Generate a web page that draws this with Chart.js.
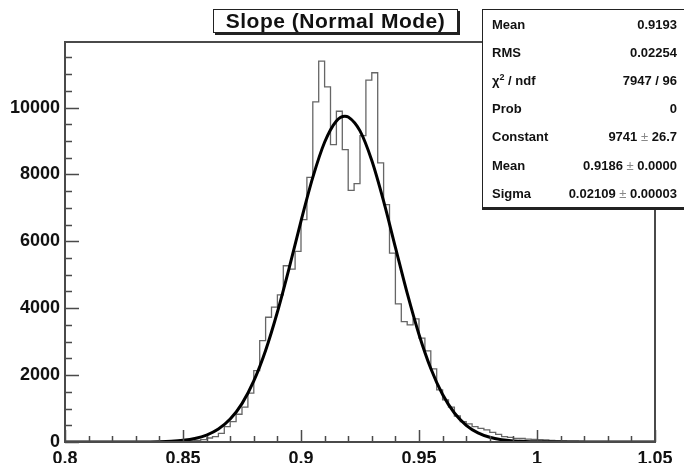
<!DOCTYPE html>
<html>
<head>
<meta charset="utf-8">
<script src="https://cdn.jsdelivr.net/npm/chart.js@4.4.0/dist/chart.umd.min.js"></script>
<style>
    body { margin: 0; background: #fff; overflow: hidden; font-family: 'Liberation Sans', Arial, sans-serif; }
    #wrap { position: relative; width: 684px; height: 463px; overflow: hidden; }
    #title {
        position: absolute; left: 213px; top: 9px; width: 243px; height: 22px;
        border: 1px solid #222; box-shadow: 2px 2px 0 #222; background: #fff;
        font-weight: bold; font-size: 21px; letter-spacing: 0.5px; line-height: 22px;
        text-align: center; color: #111; white-space: nowrap;
    }
    #stats {
        position: absolute; left: 482px; top: 9px; width: 230px;
        border: 1px solid #222; box-shadow: 0 2px 0 #222; background: #fff; color: #111;
    }
    #stats .row {
        display: flex; justify-content: space-between; align-items: center;
        width: 185px; height: 28.2px; padding-left: 9px;
        font-weight: bold; font-size: 13px;
    }
    #stats .pm { color: #888; font-weight: normal; }
    #stats sup { font-size: 9px; line-height: 0; }
</style>
</head>
<body>
<div id="wrap">
    <canvas id="histChart" width="684" height="463"></canvas>
    <div id="title">Slope (Normal Mode)</div>
    <div id="stats"></div>
</div>
<script>
// histogram: 100 bins from 0.8 to 1.05
const binLow = 0.8;
const binWidth = 0.0025;
const counts = [
    0, 0, 0, 0, 0, 0, 0, 0, 0, 0,
    0, 0, 0, 0, 0, 2, 4, 6, 10, 15,
    22, 32, 45, 70, 120, 160, 260, 460, 610, 830,
    1040, 1460, 2135, 3030, 3730, 4030, 4400, 5270, 5170, 5700,
    6650, 7915, 10170, 11390, 10620, 8890, 9890, 8740, 7525, 7725,
    9160, 10820, 11040, 8345, 7100, 5650, 4130, 3600, 3500, 3680,
    3105, 2725, 2185, 1557, 1257, 1040, 778, 608, 540, 459,
    410, 360, 290, 230, 160, 140, 110, 105, 85, 80,
    70, 60, 50, 42, 35, 28, 22, 17, 13, 10,
    8, 6, 4, 3, 2, 2, 1, 1, 0, 0
];

// gaussian fit curve
const fitX = [0.80, 0.82, 0.83, 0.84, 0.845, 0.85, 0.855, 0.86, 0.865, 0.87, 0.875, 0.88, 0.885, 0.89, 0.895,
    0.90, 0.905, 0.91, 0.915, 0.9186, 0.92, 0.925, 0.93, 0.935, 0.94, 0.945, 0.95, 0.955, 0.96, 0.965,
    0.97, 0.975, 0.98, 0.985, 0.99, 0.995, 1.00, 1.01, 1.02, 1.05];
const fitY = [0, 0.2, 1.4, 9, 22, 49, 103, 205, 386, 685, 1147, 1825, 2737, 3886, 5207,
    6603, 7912, 8963, 9600, 9741, 9720, 9303, 8417, 7203, 5821, 4450, 3215, 2197, 1418, 866,
    500, 273, 141, 69, 32, 14, 6, 1, 0, 0];

const xTickValues = [0.8, 0.85, 0.9, 0.95, 1.0, 1.05];
const xTickLabels = ['0.8', '0.85', '0.9', '0.95', '1', '1.05'];
const yTickValues = [0, 2000, 4000, 6000, 8000, 10000];
const yTickLabels = ['0', '2000', '4000', '6000', '8000', '10000'];
const yMax = 11960;

const statNames = ['Mean', 'RMS', 'χ<sup>2</sup> / ndf', 'Prob', 'Constant', 'Mean', 'Sigma'];
const statValues = ['0.9193', '0.02254', '7947 / 96', '0', '9741 <span class="pm">±</span> 26.7',
    '0.9186 <span class="pm">±</span> 0.0000', '0.02109 <span class="pm">±</span> 0.00003'];

// stats box
const statsBox = document.getElementById('stats');
statNames.forEach((name, i) => {
    const row = document.createElement('div');
    row.className = 'row';
    row.innerHTML = '<span>' + name + '</span><span>' + statValues[i] + '</span>';
    statsBox.appendChild(row);
});

const histPoints = counts.map((c, i) => ({ x: binLow + i * binWidth, y: c }));
histPoints.push({ x: binLow + counts.length * binWidth, y: counts[counts.length - 1] });
const fitPoints = fitX.map((x, i) => ({ x: x, y: fitY[i] }));

// ROOT style frame with inward ticks
const frameTicks = {
    id: 'frameTicks',
    afterDatasetsDraw(chart) {
        const { ctx, chartArea: a, scales: { x, y } } = chart;
        ctx.save();
        ctx.strokeStyle = '#4a4a4a';
        ctx.lineWidth = 1.5;
        ctx.beginPath();
        for (let i = 0; i <= 25; i++) {
            const px = Math.round(x.getPixelForValue(0.8 + i * 0.01)) + 0.5;
            const len = i % 5 === 0 ? 12 : 6;
            ctx.moveTo(px, a.bottom);
            ctx.lineTo(px, a.bottom - len);
        }
        for (let v = 0; v <= yMax; v += 500) {
            const py = Math.round(y.getPixelForValue(v)) + 0.5;
            const len = v % 2000 === 0 ? 14 : 7;
            ctx.moveTo(a.left, py);
            ctx.lineTo(a.left + len, py);
        }
        ctx.stroke();
        ctx.lineWidth = 2;
        ctx.strokeRect(a.left, a.top, a.right - a.left, a.bottom - a.top);
        ctx.restore();
    }
};

const ctx = document.getElementById('histChart').getContext('2d');
new Chart(ctx, {
    type: 'line',
    data: {
        datasets: [{
            label: 'fit',
            data: fitPoints,
            borderColor: '#000',
            borderWidth: 3,
            pointRadius: 0,
            cubicInterpolationMode: 'monotone',
            order: 0
        }, {
            label: 'hist',
            data: histPoints,
            borderColor: '#666',
            borderWidth: 1.3,
            pointRadius: 0,
            stepped: true,
            order: 1
        }]
    },
    options: {
        responsive: false,
        animation: false,
        devicePixelRatio: 1,
        layout: { padding: { top: 42, right: 29, left: 0, bottom: 0 } },
        scales: {
            x: {
                type: 'linear',
                min: 0.8,
                max: 1.05,
                grid: { display: false, drawTicks: false },
                border: { display: false },
                afterBuildTicks: (scale) => { scale.ticks = xTickValues.map(v => ({ value: v })); },
                afterFit: (scale) => { scale.height = 21; },
                ticks: {
                    autoSkip: false,
                    maxRotation: 0,
                    padding: 6,
                    color: '#111',
                    font: { family: "'Liberation Sans', Arial, sans-serif", size: 18, weight: 'bold' },
                    callback: (value, index) => xTickLabels[index]
                }
            },
            y: {
                min: 0,
                max: yMax,
                grid: { display: false, drawTicks: false },
                border: { display: false },
                afterBuildTicks: (scale) => { scale.ticks = yTickValues.map(v => ({ value: v })); },
                afterFit: (scale) => { scale.width = 65; },
                ticks: {
                    autoSkip: false,
                    padding: 5,
                    color: '#111',
                    font: { family: "'Liberation Sans', Arial, sans-serif", size: 18, weight: 'bold' },
                    callback: (value, index) => yTickLabels[index]
                }
            }
        },
        plugins: {
            legend: { display: false },
            tooltip: { enabled: false }
        }
    },
    plugins: [frameTicks]
});
</script>
</body>
</html>
